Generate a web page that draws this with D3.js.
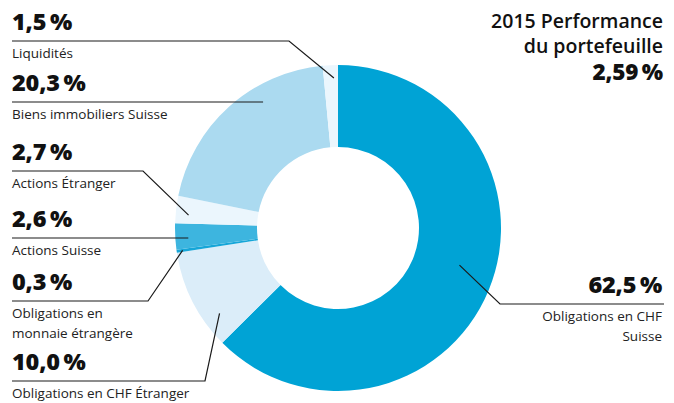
<!doctype html>
<html lang="fr">
<head>
  <meta charset="utf-8">
  <title>Performance du portefeuille 2015</title>
  <script src="https://cdn.jsdelivr.net/npm/d3@7"></script>
  <style>
    body { margin: 0; background: #fff; }
    text { font-family: "Open Sans", Lato, sans-serif; fill: #111; }
    .pct { font-weight: 800; font-size: 23.5px; letter-spacing: -0.2px; }
    .lbl { font-size: 13.5px; fill: #222; }
    .title { font-size: 19.5px; font-weight: 600; }
  </style>
</head>
<body>
  <div id="chart"></div>
  <script type="text/javascript">
    // slices in order, clockwise from 12 o'clock
    var categories = ["Obligations en CHF Suisse", "Obligations en CHF Étranger", "Obligations en monnaie étrangère",
                      "Actions Suisse", "Actions Étranger", "Biens immobiliers Suisse", "Liquidités"];
    var values = [62.5, 10.0, 0.3, 2.6, 2.7, 20.3, 1.5];
    var pctLabels = ["62,5\u2009%", "10,0\u2009%", "0,3\u2009%", "2,6\u2009%", "2,7\u2009%", "20,3\u2009%", "1,5\u2009%"];
    // label text, wrapped as shown
    var labelLines = [["Obligations en CHF", "Suisse"], ["Obligations en CHF Étranger"], ["Obligations en", "monnaie étrangère"],
                      ["Actions Suisse"], ["Actions Étranger"], ["Biens immobiliers Suisse"], ["Liquidités"]];
    var colors = ["#00a3d5", "#dbedf9", "#16a6d8", "#3db5df", "#ebf6fd", "#abdaf0", "#ebf6fd"];
    var titleLines = ["2015 Performance", "du portefeuille"];
    var totalPerf = "2,59\u2009%";

    var width = 674, height = 403;
    var cx = 338, cy = 228, rOuter = 163, rInner = 81;

    // leader layout: side, y of underline, elbow x, anchor radius, position in slice (0..1)
    var layout = [
      {side: "right", lineY: 304, elbow: 500, r: 127, t: 0.475},
      {side: "left", lineY: 381, elbow: 205, r: 146, t: 0.25},
      {side: "left", lineY: 301, elbow: 148, r: 157, t: 0.5},
      {side: "left", lineY: 238, elbow: null, r: 150, t: 0.44},
      {side: "left", lineY: 171, elbow: 143, r: 150, t: 0.33},
      {side: "left", lineY: 102, elbow: null, r: 147, t: 0.655},
      {side: "left", lineY: 41, elbow: 289, r: 150, t: 0.71}
    ];

    var svg = d3.select('#chart')
                .append('svg')
                .attr('width', width)
                .attr('height', height);

    var pie = d3.pie().sort(null).value(function(d) { return d; });
    var arcs = pie(values);
    var arc = d3.arc().innerRadius(rInner).outerRadius(rOuter);

    var g = svg.append('g').attr('transform', 'translate(' + cx + ',' + cy + ')');
    g.selectAll('path')
      .data(arcs)
      .enter()
      .append('path')
      .attr('d', arc)
      .attr('fill', function(d, i) { return colors[i]; });

    // leader lines
    arcs.forEach(function(a, i) {
      var L = layout[i];
      var ang = a.startAngle + L.t * (a.endAngle - a.startAngle);
      var ax = cx + L.r * Math.sin(ang), ay = cy - L.r * Math.cos(ang);
      var pts;
      if (L.side === "left") {
        pts = L.elbow === null ? [[12, L.lineY], [ax, L.lineY]] : [[12, L.lineY], [L.elbow, L.lineY], [ax, ay]];
      } else {
        pts = [[664, L.lineY], [L.elbow, L.lineY], [ax, ay]];
      }
      svg.append('path')
        .attr('d', d3.line()(pts))
        .attr('fill', 'none')
        .attr('stroke', '#1a1a1a')
        .attr('stroke-width', 1.2);

      var tx = L.side === "left" ? 12 : 662;
      var anchor = L.side === "left" ? 'start' : 'end';
      svg.append('text')
        .attr('class', 'pct')
        .attr('x', tx)
        .attr('y', L.lineY - 11)
        .attr('text-anchor', anchor)
        .text(pctLabels[i]);
      labelLines[i].forEach(function(s, j) {
        svg.append('text')
          .attr('class', 'lbl')
          .attr('x', tx)
          .attr('y', L.lineY + 17 + j * 20)
          .attr('text-anchor', anchor)
          .text(s);
      });
    });

    // title
    titleLines.forEach(function(s, j) {
      svg.append('text')
        .attr('class', 'title')
        .attr('x', 663)
        .attr('y', 28 + j * 25)
        .attr('text-anchor', 'end')
        .text(s);
    });
    svg.append('text')
      .attr('class', 'pct')
      .style('font-size', '22.5px')
      .attr('x', 663)
      .attr('y', 80)
      .attr('text-anchor', 'end')
      .text(totalPerf);
  </script>
</body>
</html>
